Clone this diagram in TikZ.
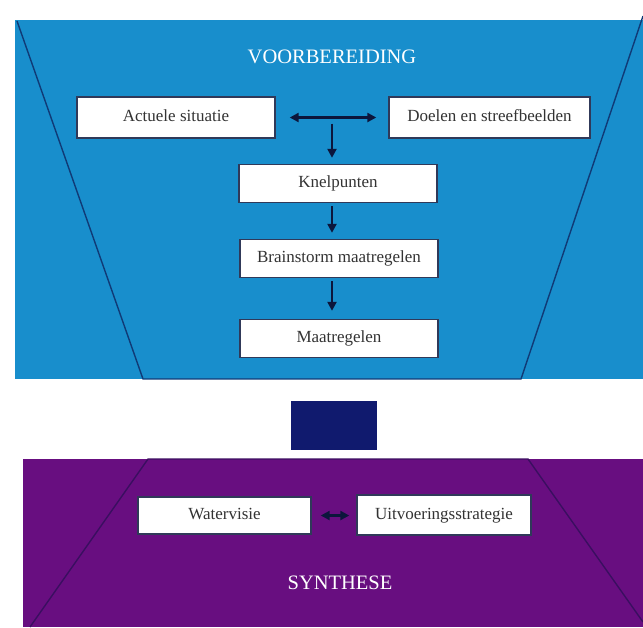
\documentclass[tikz,border=0pt]{standalone}
\usepackage{fontspec}
\setmainfont{Liberation Serif}
\usetikzlibrary{arrows.meta,calc}

\definecolor{voorblauw}{RGB}{24,142,204}
\definecolor{synthpaars}{RGB}{104,14,128}
\definecolor{blokblauw}{RGB}{16,26,110}
\definecolor{lijnblauw}{RGB}{16,58,118}
\definecolor{lijnpaars}{RGB}{58,14,96}
\definecolor{pijlkleur}{RGB}{12,22,60}

\begin{document}
\begin{tikzpicture}[x=1pt, y=-1pt,
  stapbox/.style={draw=pijlkleur!85, line width=1.4pt, fill=white, text=black!80,
    font=\fontsize{17}{19}\selectfont, minimum width=198pt, minimum height=38pt,
    text height=11.5pt, text depth=3.5pt, inner sep=0pt, align=center},
  titel/.style={text=white, font=\fontsize{20.5}{23}\selectfont, inner sep=0pt},
  pijl/.style={-{Triangle[length=9pt,width=9pt]}, line width=2.4pt, draw=pijlkleur},
  dubbelpijl/.style={{Triangle[length=9pt,width=9pt]}-{Triangle[length=9pt,width=9pt]},
    line width=2.4pt, draw=pijlkleur}]
\useasboundingbox (0,0) rectangle (643,627);

% Voorbereiding panel
\fill[voorblauw] (15,20) rectangle (643,379);
\draw[lijnblauw, line width=1.4pt] (17,21) -- (143,379) -- (521,379) -- (643,16);
\node[titel] (voorb) at (332,57) {VOORBEREIDING};

\node[stapbox, minimum width=198pt, minimum height=41pt] (actueel) at (176,117.5) {Actuele situatie};
\node[stapbox, minimum width=201pt, minimum height=41pt] (doelen) at (489.5,117.5) {Doelen en streefbeelden};
\node[stapbox] (knel) at (338,183.5) {Knelpunten};
\node[stapbox] (brain) at (339,258.5) {Brainstorm maatregelen};
\node[stapbox] (maat) at (339,338.5) {Maatregelen};

% Pijlen in de voorbereiding
\draw[dubbelpijl, shorten <=14pt, shorten >=12pt] (actueel.east) -- (doelen.west);
\coordinate (midden) at ($(actueel.east)!0.5!(doelen.west)$);
\draw[pijl, shorten <=6pt, shorten >=6pt] (midden) -- (knel.north -| midden);
\draw[pijl, shorten <=3pt, shorten >=6pt] (knel.south -| midden) -- (brain.north -| midden);
\draw[pijl, shorten <=3pt, shorten >=8pt] (brain.south -| midden) -- (maat.north -| midden);

% Blok tussen de panelen
\fill[blokblauw] (291,401) rectangle (377,450);

% Synthese panel
\fill[synthpaars] (23,459) rectangle (643,627);
\draw[lijnpaars, line width=1.4pt] (30,627) -- (148,459) -- (528,459) -- (643,622);
\node[titel] (synth) at (340,583) {SYNTHESE};

\node[stapbox, minimum width=173pt, minimum height=37pt] (water) at (224.5,515.5) {Watervisie};
\node[stapbox, minimum width=174pt, minimum height=40pt] (uitv) at (444,515) {Uitvoeringsstrategie};
\draw[dubbelpijl, shorten <=9pt, shorten >=7pt] (water.east) -- (uitv.west |- water);
\end{tikzpicture}
\end{document}
